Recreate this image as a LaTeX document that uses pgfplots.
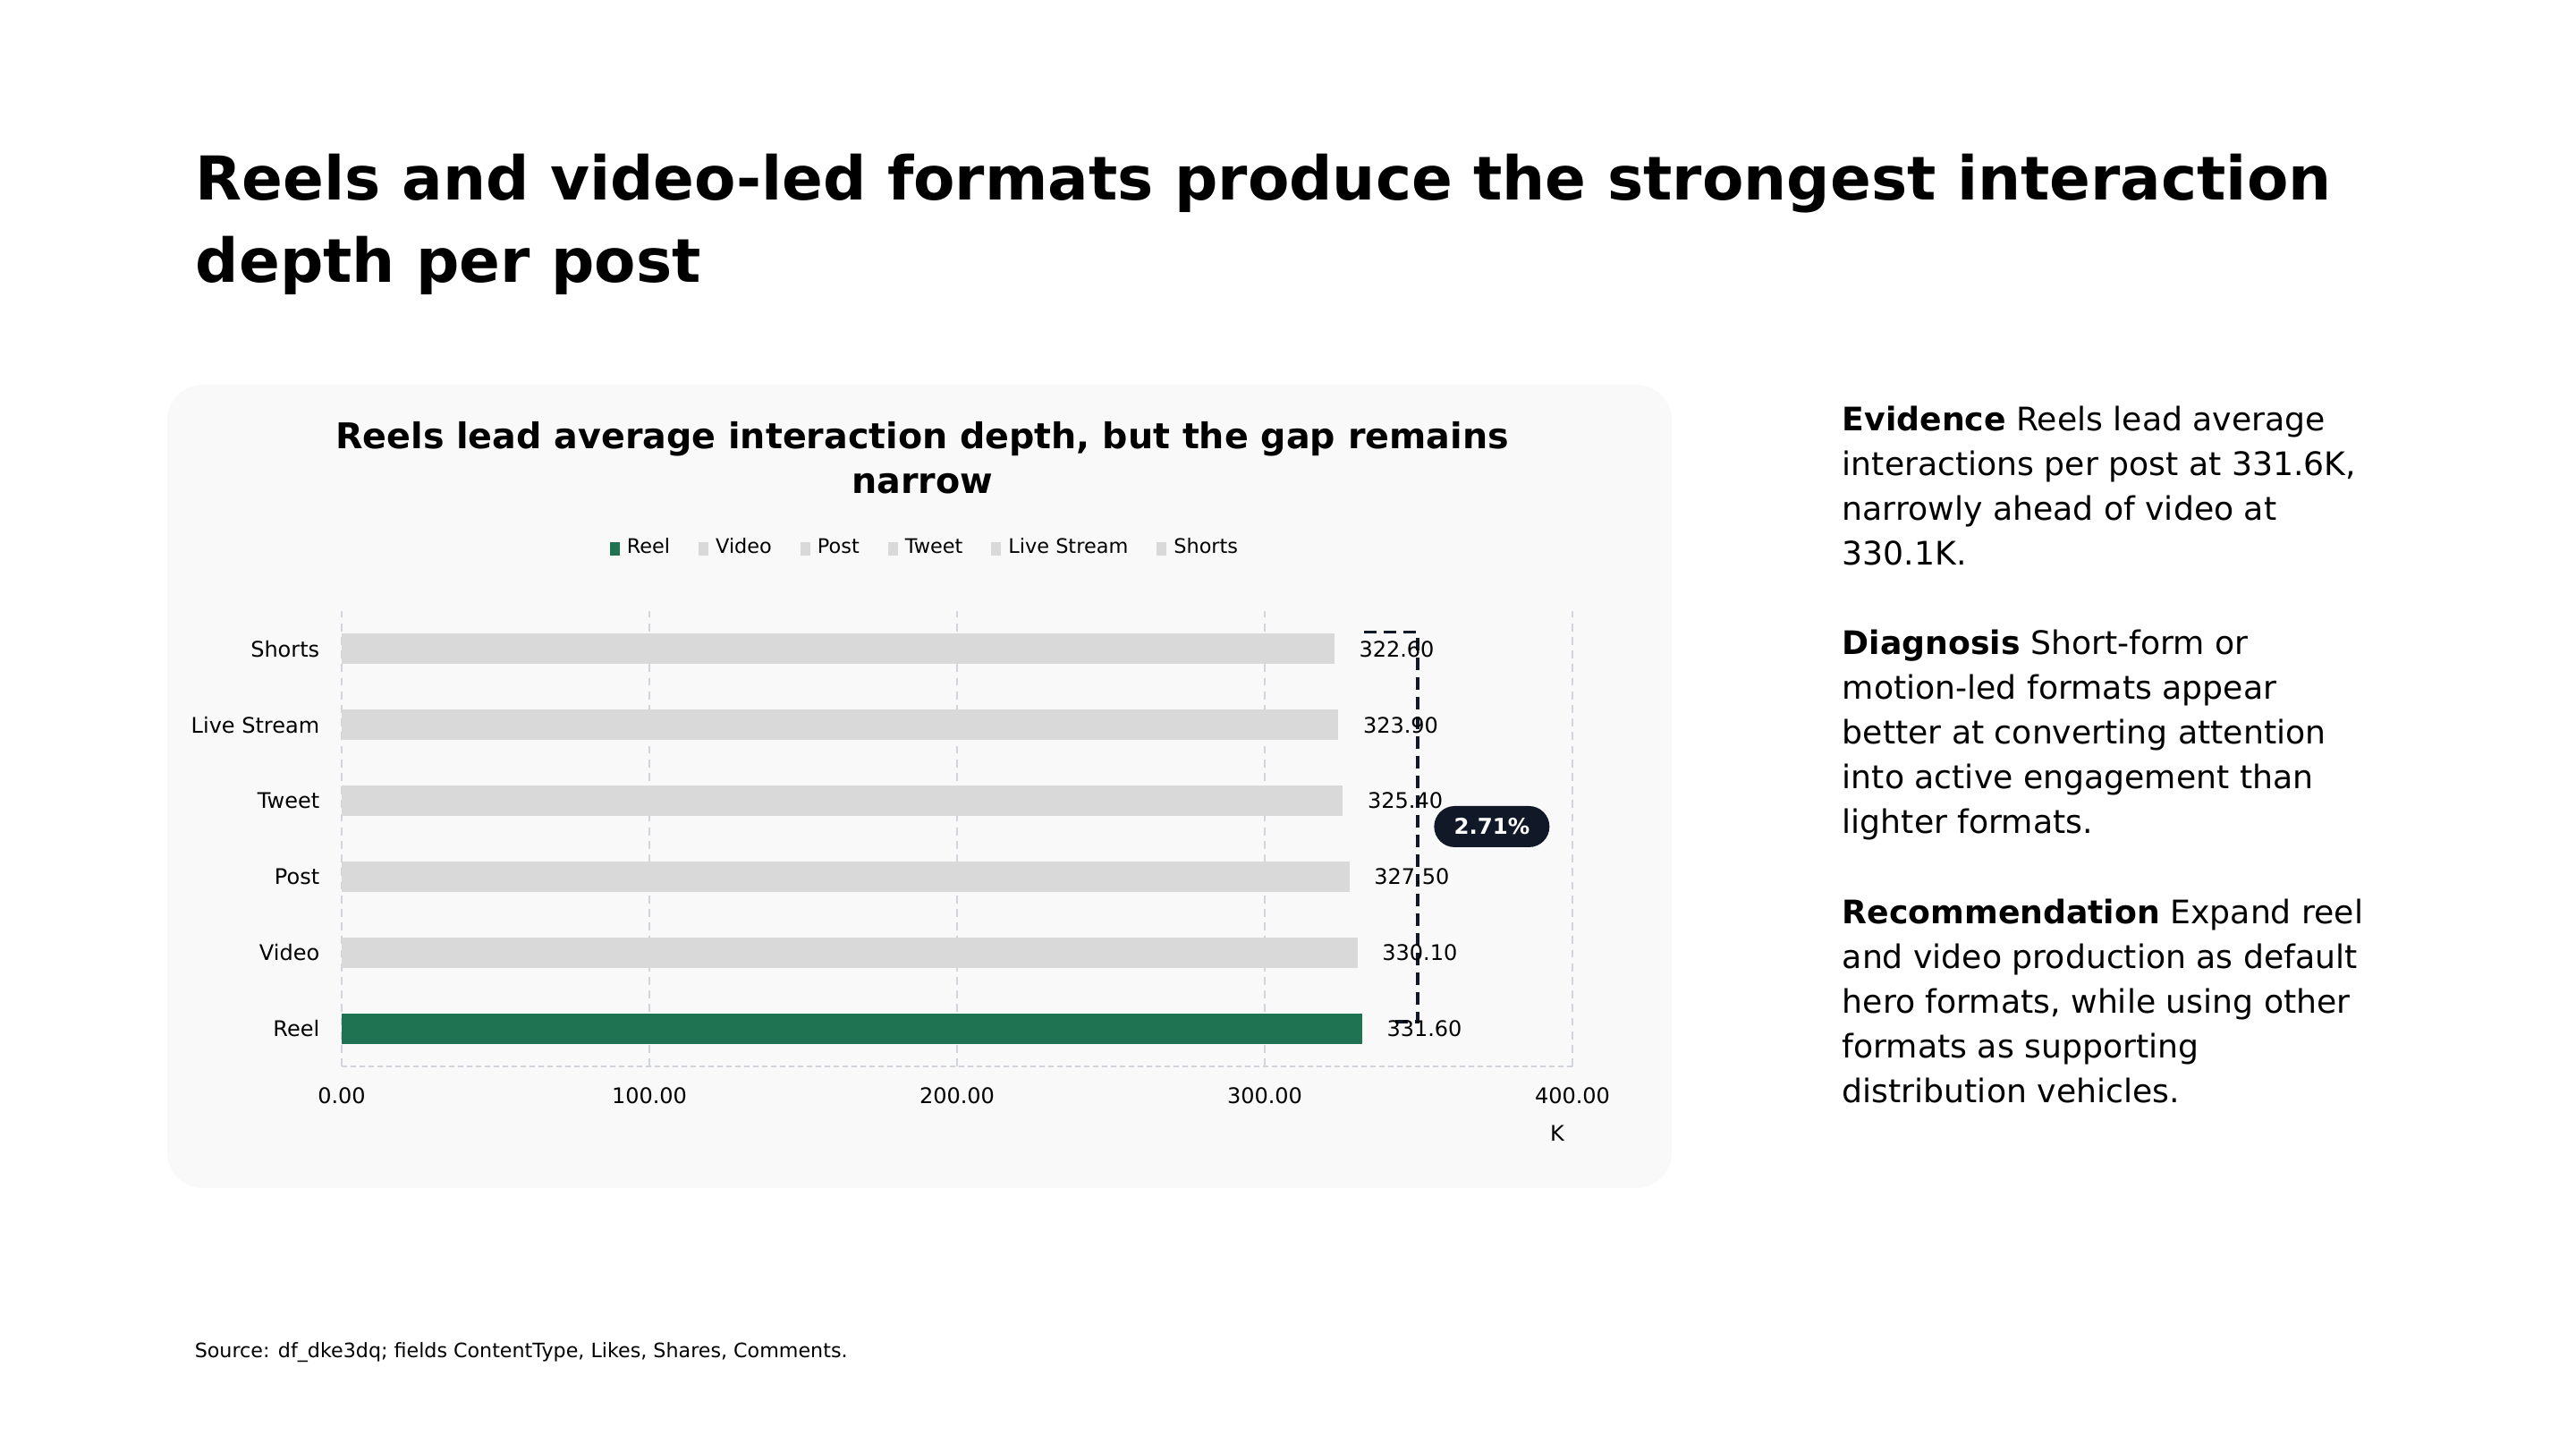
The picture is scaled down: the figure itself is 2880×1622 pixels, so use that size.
\documentclass[border=0pt]{standalone}
\usepackage{fontspec}
\setmainfont{DejaVu Sans}
\usepackage{pgfplots}
\pgfplotsset{compat=1.18}

\definecolor{reelgreen}{HTML}{1F7353}
\definecolor{bargray}{HTML}{D9D9D9}
\definecolor{gridc}{HTML}{D1D5DB}
\definecolor{cardbg}{HTML}{F9F9F9}
\definecolor{navy}{HTML}{111827}

\newcommand\fs[2]{\fontsize{#1}{#2}\selectfont}

\begin{document}
\begin{tikzpicture}[x=0.25pt,y=-0.25pt]
% page, 1px = 0.25pt
\path[fill=white, use as bounding box] (0,0) rectangle (2880,1622);

% headline
\node[anchor=base west, inner sep=0pt, font=\fs{16.9}{20}\bfseries] at (218,223)
  {Reels and video-led formats produce the strongest interaction};
\node[anchor=base west, inner sep=0pt, font=\fs{16.9}{20}\bfseries] at (218,315)
  {depth per post};

% chart card
\fill[cardbg, rounded corners=10pt] (187,430) rectangle (1869,1328);
\node[anchor=base, inner sep=0pt, font=\fs{9.9}{12}\bfseries] at (1031,501)
  {Reels lead average interaction depth, but the gap remains};
\node[anchor=base, inner sep=0pt, font=\fs{9.9}{12}\bfseries] at (1031,551) {narrow};

\begin{axis}[
    at={(95.5pt,-298pt)}, anchor=south west,
    scale only axis, width=344pt, height=127.25pt,
    xbar, bar width=8.5pt,
    xmin=0, xmax=400, ymin=-0.5, ymax=5.5,
    clip=false,
    axis line style={draw=none},
    major tick length=0pt,
    xtick={0,100,200,300,400},
    ytick={0,1,2,3,4,5},
    yticklabels={Reel,Video,Post,Tweet,Live Stream,Shorts},
    xmajorgrids,
    grid style={draw=gridc, line width=0.35pt, dash pattern=on 2.2pt off 1.6pt},
    tick label style={font=\fs{6}{7}, text=black},
    xticklabel={\pgfmathprintnumber[fixed,fixed zerofill,precision=2,assume math mode=true]{\tick}},
    xticklabel style={anchor=center, inner sep=0pt, yshift=-8.25pt},
    yticklabel style={anchor=east, inner sep=0pt, xshift=-6pt},
    xlabel={K},
    xlabel style={at={(axis description cs:0.9876,0)}, anchor=center, inner sep=0pt,
      yshift=-18.75pt, font=\fs{6}{7}},
    nodes near coords={\pgfmathprintnumber[fixed,fixed zerofill,precision=2,assume math mode=true]{\pgfplotspointmeta}},
    point meta=x,
    nodes near coords style={anchor=west, inner sep=0pt, xshift=6.75pt, font=\fs{6}{7}, text=black},
    legend image code/.code={\fill[#1, draw=none] (0pt,-1.875pt) rectangle (2.75pt,1.875pt);},
    legend style={at={(axis description cs:0.476,1)}, anchor=center, yshift=17.5pt,
      draw=none, fill=none, font=\fs{5.6}{7}, legend columns=-1,
      /tikz/every even column/.append style={column sep=6pt}},
  ]
  \addplot[fill=reelgreen, draw=none, bar shift=0pt] coordinates {(331.6,0)};
  \addplot[fill=bargray, draw=none, bar shift=0pt] coordinates {(330.1,1)};
  \addplot[fill=bargray, draw=none, bar shift=0pt] coordinates {(327.5,2)};
  \addplot[fill=bargray, draw=none, bar shift=0pt] coordinates {(325.4,3)};
  \addplot[fill=bargray, draw=none, bar shift=0pt] coordinates {(323.9,4)};
  \addplot[fill=bargray, draw=none, bar shift=0pt] coordinates {(322.6,5)};
  \legend{Reel,Video,Post,Tweet,Live Stream,Shorts}

  % dashed base line
  \draw[gridc, line width=0.35pt, dash pattern=on 1.5pt off 1pt]
    (axis cs:0,-0.5) -- (axis cs:400,-0.5);
  % gap bracket between Shorts and Reel
  \draw[navy, line width=0.8pt, dash pattern=on 3.5pt off 2pt]
    (axis cs:332.3,5.22) -- (axis cs:349.7,5.22) -- (axis cs:349.7,0.09) -- (axis cs:341,0.09);
  \node[fill=navy, text=white, rounded corners=5.75pt, minimum width=32.25pt,
    minimum height=11.5pt, inner sep=0pt, font=\fs{6.1}{7}\bfseries]
    at (axis cs:373.8,2.66) {2.71\%};
\end{axis}

% commentary
\begin{scope}[every node/.style={anchor=base west, inner sep=0pt, font=\fs{9.05}{10}}]
\node at (2059,481) {\textbf{Evidence} Reels lead average};
\node at (2059,531) {interactions per post at 331.6K,};
\node at (2059,581) {narrowly ahead of video at};
\node at (2059,631) {330.1K.};
\node at (2059,731) {\textbf{Diagnosis} Short-form or};
\node at (2059,781) {motion-led formats appear};
\node at (2059,831) {better at converting attention};
\node at (2059,881) {into active engagement than};
\node at (2059,931) {lighter formats.};
\node at (2059,1032) {\textbf{Recommendation} Expand reel};
\node at (2059,1082) {and video production as default};
\node at (2059,1132) {hero formats, while using other};
\node at (2059,1182) {formats as supporting};
\node at (2059,1232) {distribution vehicles.};
\end{scope}

\node[anchor=base west, inner sep=0pt, font=\fs{5.55}{6}] at (217,1517)
  {Source: df\_dke3dq; fields ContentType, Likes, Shares, Comments.};
\end{tikzpicture}
\end{document}
